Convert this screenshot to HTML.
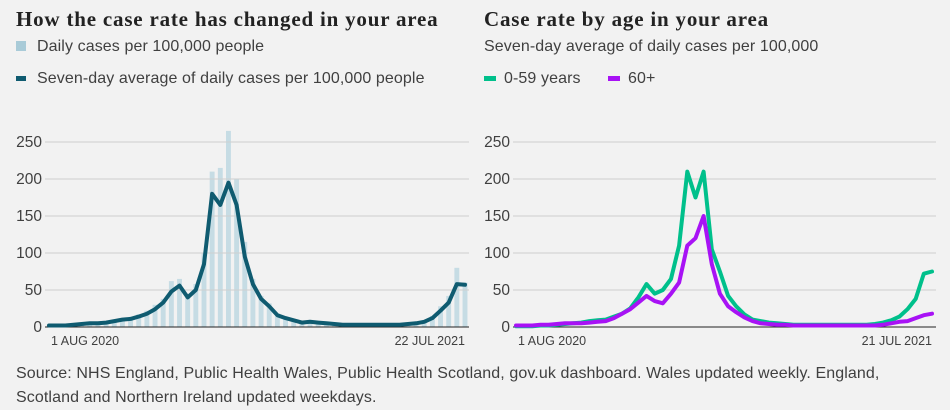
<!DOCTYPE html>
<html><head><meta charset="utf-8"><style>
body{margin:0;background:#f2f2f2;width:950px;height:410px;overflow:hidden;font-family:"Liberation Sans",sans-serif;color:#404040;position:relative}
.t{position:absolute;white-space:nowrap}
h2{position:absolute;margin:0;font-family:"Liberation Serif",serif;font-weight:bold;font-size:21px;letter-spacing:0.8px;color:#222;white-space:nowrap}
.lg{position:absolute;font-size:16px;letter-spacing:0.1px;white-space:nowrap}
</style></head><body>
<h2 style="left:16px;top:7px">How the case rate has changed in your area</h2>
<div class="lg" style="left:16px;top:38px"><span style="display:inline-block;width:10px;height:10px;background:#a9cbd8;margin-right:11px"></span>Daily cases per 100,000 people</div>
<div class="lg" style="left:16px;top:70px"><span style="display:inline-block;width:10px;height:5px;background:#0f5b70;margin-right:11px;vertical-align:middle"></span>Seven-day average of daily cases per 100,000 people</div>
<h2 style="left:484px;top:7px">Case rate by age in your area</h2>
<div class="lg" style="left:484px;top:38px">Seven-day average of daily cases per 100,000</div>
<div class="lg" style="left:484px;top:70px"><span style="display:inline-block;width:12px;height:5px;background:#00c08b;margin-right:8px;vertical-align:middle"></span>0-59 years</div>
<div class="lg" style="left:608px;top:70px"><span style="display:inline-block;width:12px;height:5px;background:#a812f5;margin-right:8px;vertical-align:middle"></span>60+</div>
<svg id="c" width="950" height="410" style="position:absolute;left:0;top:0"></svg>
<div class="t" style="left:16px;top:362px;font-size:16px;letter-spacing:0.1px;line-height:24px">Source: NHS England, Public Health Wales, Public Health Scotland, gov.uk dashboard. Wales updated weekly. England,<br>Scotland and Northern Ireland updated weekdays.</div>
<script>
const yTicks=[0,50,100,150,200,250];
const leftXLabels=["1 AUG 2020","22 JUL 2021"];
const rightXLabels=["1 AUG 2020","21 JUL 2021"];
const dailyBars=[2,3,2,3,5,6,6,7,10,12,13,17,22,30,38,62,65,45,58,100,210,215,265,200,115,65,42,32,18,14,10,8,8,7,6,5,4,4,4,4,4,4,4,4,5,6,9,15,28,42,80,60];
const sevenDayAvg=[2,2,2,3,4,5,5,6,8,10,11,14,18,24,33,48,56,40,50,85,180,165,195,165,95,58,38,28,16,12,9,6,7,6,5,4,3,3,3,3,3,3,3,3,4,5,7,12,22,33,58,57];
const young=[1,1,1,2,2,3,4,5,6,8,9,10,14,18,25,40,58,45,50,65,110,210,175,210,105,75,42,28,17,10,8,6,5,4,3,3,3,3,3,3,3,3,3,3,4,6,9,14,24,38,72,75];
const old=[2,2,2,3,3,4,5,5,5,6,7,8,12,18,24,33,42,35,32,45,60,110,120,150,85,45,28,20,13,8,5,4,3,3,2,2,2,2,2,2,2,2,2,2,2,3,5,7,8,12,16,18];
const svg=document.getElementById('c');const NS='http://www.w3.org/2000/svg';
function mk(t,a){const e=document.createElementNS(NS,t);for(const k in a)e.setAttribute(k,a[k]);svg.appendChild(e);return e;}
const y=v=>327-v*0.74;
function axes(x0,x1,gx0,lx,labels,pre){
  yTicks.forEach(t=>{
    const l=mk('line',{x1:gx0,x2:x1+4,y1:y(t),y2:y(t),stroke:t?'#cfcfcf':'#222','stroke-width':1});
    
    
    const tx=mk('text',{x:lx,y:y(t)+5,'text-anchor':'end','font-size':15.5,fill:'#404040','font-family':'Liberation Sans'});tx.textContent=t;
    
    
  });
  const a=mk('text',{x:x0+2,y:345,'font-size':12.5,fill:'#404040','font-family':'Liberation Sans'});a.textContent=labels[0];
  
  
  const b=mk('text',{x:x1,y:345,'text-anchor':'end','font-size':12.5,fill:'#404040','font-family':'Liberation Sans'});b.textContent=labels[1];
  
  
}
function line(arr,x0,x1,col,name){
  const dx=(x1-x0)/(arr.length-1);
  const p=mk('polyline',{points:arr.map((v,i)=>(x0+i*dx).toFixed(1)+','+y(v).toFixed(1)).join(' '),fill:'none',stroke:col,'stroke-width':4,'stroke-linejoin':'round','stroke-linecap':'round'});
  
  
}
const L0=49,L1=465;
const dx=(L1-L0)/(dailyBars.length-1);
dailyBars.forEach((v,i)=>{
  const r=mk('rect',{x:L0+i*dx-dx*0.3,y:y(v),width:dx*0.6,height:327-y(v),fill:'#c6dce4'});
  
  
});
axes(L0,L1,45,42,leftXLabels,'left-');
line(sevenDayAvg,L0,L1,'#0f5b70','average-line');
const R0=516,R1=932;
axes(R0,R1,513,510,rightXLabels,'right-');
line(young,R0,R1,'#00c08b','young-line');
line(old,R0,R1,'#a812f5','old-line');
</script>
</body></html>
